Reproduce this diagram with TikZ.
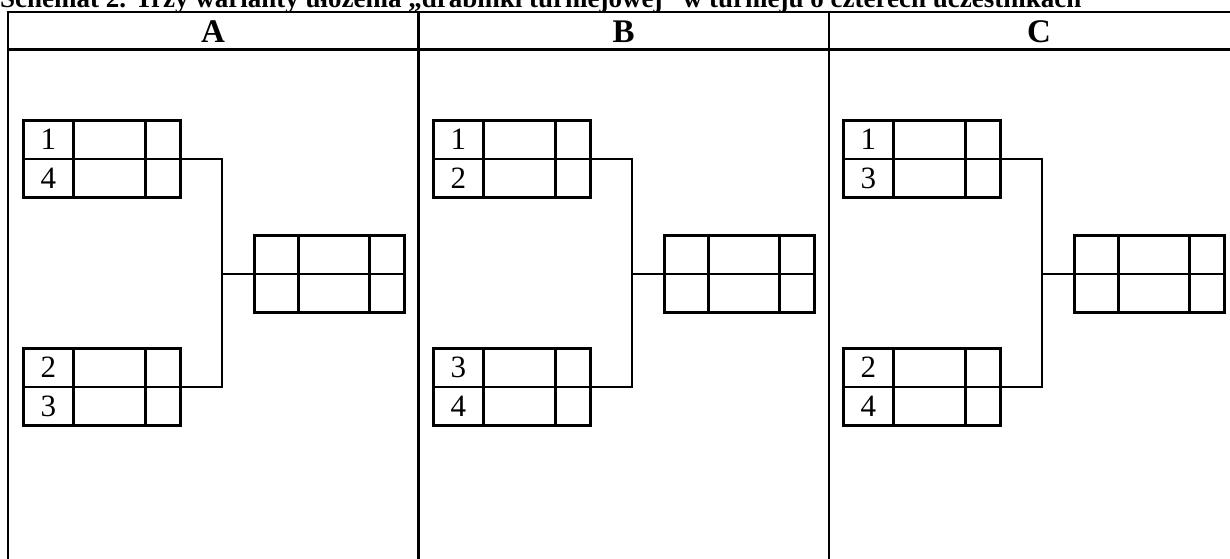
\documentclass[tikz,border=0pt]{standalone}
\usepackage{fontspec}
\setmainfont{Liberation Serif}
\usetikzlibrary{matrix,calc}

\begin{document}
\begin{tikzpicture}[x=1pt, y=-1pt,
  frame/.style={line width=2.8pt},
  link/.style={line width=1.9pt},
  cell/.style={draw, line width=2.7pt, minimum height=38.5pt, inner sep=0pt,
    outer sep=0pt, anchor=center, font=\fontsize{31}{36}\selectfont},
  game/.style={matrix of nodes, nodes in empty cells, anchor=north west,
    inner sep=0pt, outer sep=0pt, column sep=-2.7pt, row sep=-2.7pt, nodes={cell},
    column 1/.style={nodes={minimum width=50pt}},
    column 2/.style={nodes={minimum width=72pt}},
    column 3/.style={nodes={minimum width=35pt}}},
  final/.style={game,
    column 1/.style={nodes={minimum width=44pt}},
    column 2/.style={nodes={minimum width=71pt}}},
  head/.style={font=\bfseries\fontsize{33}{38}\selectfont, anchor=base, inner sep=0pt},
  ttl/.style={font=\bfseries\fontsize{27}{32}\selectfont, anchor=base west, inner sep=0pt}]
\useasboundingbox (0,0) rectangle (1230,558);
% caption, cut off at the top
\node[ttl] (title) at (0,7)
  {Schemat 2. Trzy warianty ułożenia „drabinki turniejowej” w turnieju o czterech uczestnikach};
% the table
\draw[frame] (8,570) -- (8,12) -- (1260,12);
\draw[frame] (8,49.5) -- (1260,49.5);
\draw[frame] (418.5,12) -- (418.5,570);
\draw[frame] (829,12) -- (829,570);
\draw[frame] (1249,12) -- (1249,570);
\node[head] (hA) at (213,42) {A};
\node[head] (hB) at (623.5,42) {B};
\node[head] (hC) at (1039,42) {C};
% variant A
\matrix (A1) [game] at (22,119) {1 & & \\ 4 & & \\};
\matrix (A2) [game] at (22,347) {2 & & \\ 3 & & \\};
\matrix (Af) [final] at (253,234) {& & \\ & & \\};
\coordinate (Aj) at ($(Af.west)+(-31,0)$);
\draw[link] (A1.east) -| (Aj) |- (A2.east);
\draw[link] (Aj) -- (Af.west);
% variant B
\matrix (B1) [game] at (432,119) {1 & & \\ 2 & & \\};
\matrix (B2) [game] at (432,347) {3 & & \\ 4 & & \\};
\matrix (Bf) [final] at (663,234) {& & \\ & & \\};
\coordinate (Bj) at ($(Bf.west)+(-31,0)$);
\draw[link] (B1.east) -| (Bj) |- (B2.east);
\draw[link] (Bj) -- (Bf.west);
% variant C
\matrix (C1) [game] at (842,119) {1 & & \\ 3 & & \\};
\matrix (C2) [game] at (842,347) {2 & & \\ 4 & & \\};
\matrix (Cf) [final] at (1073,234) {& & \\ & & \\};
\coordinate (Cj) at ($(Cf.west)+(-31,0)$);
\draw[link] (C1.east) -| (Cj) |- (C2.east);
\draw[link] (Cj) -- (Cf.west);
\end{tikzpicture}
\end{document}
